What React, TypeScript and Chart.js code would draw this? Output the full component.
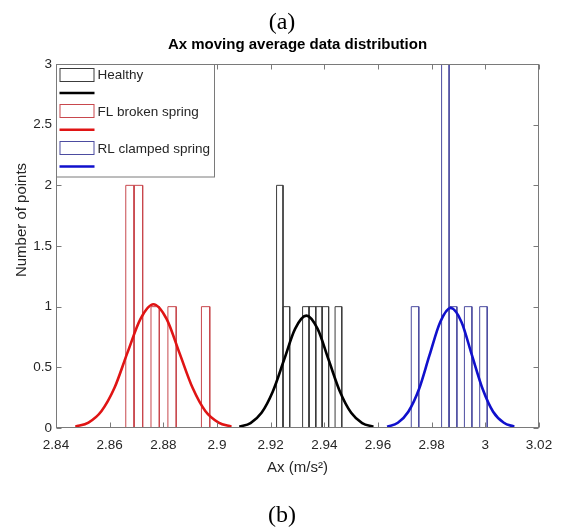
import React, { useEffect, useRef } from 'react';
import { Chart, registerables } from 'chart.js';

Chart.register(...registerables);

const chartTitle = 'Ax moving average data distribution';
const xAxisTitle = 'Ax (m/s²)';
const yAxisTitle = 'Number of points';
const seriesLabels = ['Healthy', 'FL broken spring', 'RL clamped spring'];

// Histogram bin edges and counts
const healthyBinEdges = [2.9222, 2.9246, 2.9271, 2.9295, 2.9319, 2.9343, 2.9368, 2.9392, 2.9416, 2.944, 2.9465];
const healthyCounts = [2, 1, 0, 0, 1, 1, 1, 1, 0, 1];
const flBinEdges = [2.866, 2.8691, 2.8723, 2.8754, 2.8785, 2.8817, 2.8848, 2.8879, 2.8911, 2.8942, 2.8973];
const flCounts = [2, 2, 0, 1, 0, 1, 0, 0, 0, 1];
const rlBinEdges = [2.9724, 2.9752, 2.978, 2.9809, 2.9837, 2.9865, 2.9894, 2.9922, 2.995, 2.9979, 3.0007];
const rlCounts = [1, 0, 0, 0, 3, 1, 0, 1, 0, 1];

// Fitted curves
const healthyFitX = [2.9083, 2.9125, 2.9166, 2.9208, 2.925, 2.9291, 2.9333, 2.9375, 2.9416, 2.9458, 2.95, 2.9541, 2.9583];
const healthyFitY = [0.01, 0.041, 0.125, 0.301, 0.562, 0.817, 0.926, 0.817, 0.562, 0.301, 0.125, 0.041, 0.01];
const flFitX = [2.8472, 2.8521, 2.8569, 2.8618, 2.8666, 2.8715, 2.8763, 2.8812, 2.886, 2.8909, 2.8957, 2.9006, 2.9054];
const flFitY = [0.011, 0.045, 0.138, 0.331, 0.619, 0.9, 1.02, 0.9, 0.619, 0.331, 0.138, 0.045, 0.011];
const rlFitX = [2.9634, 2.9674, 2.9713, 2.9753, 2.9792, 2.9832, 2.9871, 2.9911, 2.995, 2.999, 3.0029, 3.0069, 3.0108];
const rlFitY = [0.011, 0.043, 0.134, 0.321, 0.6, 0.874, 0.99, 0.874, 0.6, 0.321, 0.134, 0.043, 0.011];

const xTickValues = [2.84, 2.86, 2.88, 2.9, 2.92, 2.94, 2.96, 2.98, 3, 3.02];
const xTickLabels = ['2.84', '2.86', '2.88', '2.9', '2.92', '2.94', '2.96', '2.98', '3', '3.02'];
const yTickValues = [0, 0.5, 1, 1.5, 2, 2.5, 3];
const yTickLabels = ['0', '0.5', '1', '1.5', '2', '2.5', '3'];

const SANS = "'Liberation Sans', Arial, Helvetica, sans-serif";
const SERIF = "'Liberation Serif', 'Times New Roman', serif";
const TEXT = '#262626';
const AXIS = '#7a7a7a';

function histOutline(edges: number[], counts: number[]) {
  const pts: { x: number; y: number | null }[] = [];
  counts.forEach((c, i) => {
    if (c <= 0) return;
    pts.push({ x: edges[i], y: 0 }, { x: edges[i], y: c }, { x: edges[i + 1], y: c }, { x: edges[i + 1], y: 0 });
    pts.push({ x: edges[i + 1], y: null });
  });
  return pts;
}

function curve(xs: number[], ys: number[]) {
  return xs.map((x, i) => ({ x, y: ys[i] }));
}

const frame = {
  id: 'matlabFrame',
  afterDatasetsDraw(chart: any) {
    const { ctx, chartArea, scales } = chart;
    const l = Math.round(chartArea.left) + 0.5;
    const r = Math.round(chartArea.right) - 0.5;
    const t = Math.round(chartArea.top) + 0.5;
    const b = Math.round(chartArea.bottom) - 0.5;
    ctx.save();
    ctx.strokeStyle = AXIS;
    ctx.lineWidth = 1;
    ctx.beginPath();
    const tl = 5;
    scales.x.ticks.forEach((tk: any) => {
      const px = Math.round(scales.x.getPixelForValue(tk.value)) + 0.5;
      ctx.moveTo(px, b);
      ctx.lineTo(px, b - tl);
      ctx.moveTo(px, t);
      ctx.lineTo(px, t + tl);
    });
    scales.y.ticks.forEach((tk: any) => {
      const py = Math.round(scales.y.getPixelForValue(tk.value)) + 0.5;
      ctx.moveTo(l, py);
      ctx.lineTo(l + tl, py);
      ctx.moveTo(r, py);
      ctx.lineTo(r - tl, py);
    });
    ctx.stroke();
    ctx.strokeRect(l, t, r - l, b - t);
    ctx.restore();
  },
  afterDraw(chart: any) {
    const { ctx, chartArea } = chart;
    // y axis title
    ctx.save();
    ctx.fillStyle = TEXT;
    ctx.font = `15px ${SANS}`;
    ctx.textAlign = 'center';
    ctx.textBaseline = 'middle';
    ctx.translate(21.5, 220);
    ctx.rotate(-Math.PI / 2);
    ctx.fillText(yAxisTitle, 0, 0);
    ctx.restore();

    // legend box
    const x0 = Math.round(chartArea.left) + 0.5;
    const y0 = Math.round(chartArea.top) + 0.5;
    const w = 158;
    const h = 112.5;
    ctx.save();
    ctx.fillStyle = '#ffffff';
    ctx.fillRect(x0, y0, w, h);
    ctx.strokeStyle = AXIS;
    ctx.lineWidth = 1;
    ctx.strokeRect(x0, y0, w, h);
    ctx.font = `13.5px ${SANS}`;
    ctx.textBaseline = 'middle';
    ctx.textAlign = 'left';
    const ds = chart.data.datasets;
    ds.forEach((d: any, i: number) => {
      const cy = y0 + 10 + i * 18.4;
      const sx = x0 + 3.5;
      const ex = x0 + 37.5;
      if (d.kind === 'hist') {
        ctx.strokeStyle = d.borderColor;
        ctx.lineWidth = 1;
        ctx.strokeRect(sx, Math.round(cy - 7) + 0.5, ex - sx, 13);
        ctx.fillStyle = TEXT;
        ctx.fillText(d.label, x0 + 41, cy + 1);
      } else {
        ctx.strokeStyle = d.borderColor;
        ctx.lineWidth = 2.5;
        ctx.beginPath();
        ctx.moveTo(sx - 0.5, cy);
        ctx.lineTo(ex + 0.5, cy);
        ctx.stroke();
      }
    });
    ctx.restore();
  },
};

export default function App() {
  const ref = useRef<HTMLCanvasElement>(null);

  useEffect(() => {
    if (!ref.current) return;
    const histBase = {
      kind: 'hist',
      showLine: true,
      pointRadius: 0,
      borderWidth: 1,
      tension: 0,
      fill: false,
      spanGaps: false,
      order: 2,
    };
    const fitBase = {
      kind: 'fit',
      showLine: true,
      pointRadius: 0,
      borderWidth: 2.6,
      cubicInterpolationMode: 'monotone',
      fill: false,
      order: 1,
    };
    const chart = new Chart(ref.current, {
      type: 'line',
      data: {
        datasets: [
          { ...histBase, label: seriesLabels[0], data: histOutline(healthyBinEdges, healthyCounts), borderColor: '#3c3c3c' },
          { ...fitBase, label: '', data: curve(healthyFitX, healthyFitY), borderColor: '#000000' },
          { ...histBase, label: seriesLabels[1], data: histOutline(flBinEdges, flCounts), borderColor: '#c8474d' },
          { ...fitBase, label: '', data: curve(flFitX, flFitY), borderColor: '#e01414' },
          { ...histBase, label: seriesLabels[2], data: histOutline(rlBinEdges, rlCounts), borderColor: '#4c4ca0' },
          { ...fitBase, label: '', data: curve(rlFitX, rlFitY), borderColor: '#1010cc' },
        ] as any,
      },
      options: {
        animation: false,
        responsive: false,
        layout: { padding: { left: 0, right: 25, top: 0, bottom: 0 } },
        plugins: {
          legend: { display: false },
          tooltip: { enabled: false },
          title: {
            display: true,
            text: chartTitle,
            fullSize: false,
            color: '#000000',
            font: { family: SANS, size: 15, weight: 'bold' },
            padding: { top: 35.5, bottom: 10.5 },
          },
        },
        scales: {
          x: {
            type: 'linear',
            min: 2.84,
            max: 3.02,
            grid: { display: false, drawTicks: false },
            border: { display: false },
            afterBuildTicks: (s: any) => {
              s.ticks = xTickValues.map((v) => ({ value: v }));
            },
            afterFit: (s: any) => {
              s.height = 99;
            },
            ticks: {
              autoSkip: false,
              maxRotation: 0,
              padding: 9,
              color: TEXT,
              font: { family: SANS, size: 13.5 },
              callback: (_v: any, i: number) => xTickLabels[i],
            },
            title: {
              display: true,
              text: xAxisTitle,
              color: TEXT,
              font: { family: SANS, size: 15 },
              padding: { top: 0, bottom: 50 },
            },
          },
          y: {
            type: 'linear',
            min: 0,
            max: 3,
            grid: { display: false, drawTicks: false },
            border: { display: false },
            afterBuildTicks: (s: any) => {
              s.ticks = yTickValues.map((v) => ({ value: v }));
            },
            afterFit: (s: any) => {
              s.width = 56;
            },
            ticks: {
              autoSkip: false,
              padding: 4,
              color: TEXT,
              font: { family: SANS, size: 13.5 },
              callback: (_v: any, i: number) => yTickLabels[i],
            },
          },
        },
      } as any,
      plugins: [frame],
    });
    return () => chart.destroy();
  }, []);

  return (
    <div style={{ position: 'absolute', left: 0, top: 0, width: 564, height: 527, background: '#ffffff' }}>
      <canvas ref={ref} width={564} height={527} style={{ position: 'absolute', left: 0, top: 0 }} />
      <div
        style={{
          position: 'absolute', left: 0, top: 8, width: 564, textAlign: 'center',
          fontFamily: SERIF, fontSize: 24, lineHeight: '26px', color: '#000', pointerEvents: 'none',
        }}
      >
        (a)
      </div>
      <div
        style={{
          position: 'absolute', left: 0, top: 501, width: 564, textAlign: 'center',
          fontFamily: SERIF, fontSize: 24, lineHeight: '26px', color: '#000', pointerEvents: 'none',
        }}
      >
        (b)
      </div>
    </div>
  );
}
